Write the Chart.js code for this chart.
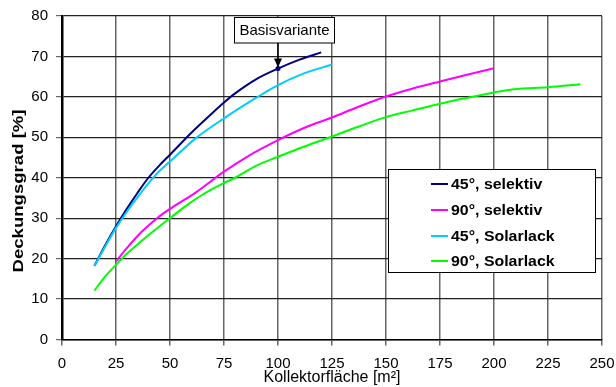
<!DOCTYPE html>
<html>
<head>
<meta charset="utf-8">
<script src="https://cdn.jsdelivr.net/npm/chart.js@4/dist/chart.umd.min.js"></script>
<style>
  html, body { margin: 0; padding: 0; background: #fff; }
  #wrap { width: 616px; height: 387px; }
</style>
</head>
<body>
<div id="wrap"><canvas id="chart" width="616" height="387"></canvas></div>
<script>
// data
const seriesNames = ['45°, selektiv', '90°, selektiv', '45°, Solarlack', '90°, Solarlack'];
const seriesColors = ['#000080', '#ff00ff', '#00ccff', '#00ff00'];

const area45sel = [15, 20, 25, 30, 35, 40, 45, 50, 60, 70, 75, 80, 90, 100, 110, 120];
const dg45sel   = [18.2, 23.3, 28, 32.3, 36.3, 40, 43, 45.7, 51.2, 56.2, 58.6, 60.8, 64.4, 67, 69.2, 71];

const area90sel = [25, 30, 37, 44, 50, 62, 75, 87, 100, 112, 125, 137, 150, 162, 175, 187, 200];
const dg90sel   = [19.3, 22.6, 26.7, 30, 32.3, 36.4, 41.5, 45.6, 49.3, 52.3, 54.9, 57.5, 60.1, 62, 63.8, 65.4, 67.1];

const area45sol = [15, 20, 25, 30, 35, 40, 45, 50, 62, 75, 90, 100, 112, 125];
const dg45sol   = [18.2, 23, 27.6, 31.6, 35.2, 38.6, 41.6, 44, 49.8, 54.7, 59.8, 62.9, 65.8, 68];

const area90sol = [15, 20, 25, 30, 40, 50, 58, 65, 75, 80, 90, 100, 110, 125, 137, 150, 162, 175, 187, 200, 209, 225, 240];
const dg90sol   = [12.1, 15.6, 18.5, 21.2, 25.8, 30, 33.3, 35.8, 38.7, 40, 43, 45.2, 47.3, 50.2, 52.6, 55, 56.6, 58.3, 59.7, 61.1, 61.9, 62.4, 63.1];

const xTicks = [0, 25, 50, 75, 100, 125, 150, 175, 200, 225, 250];
const yTicks = [0, 10, 20, 30, 40, 50, 60, 70, 80];

const basisLabel = 'Basisvariante';
const basisArea = 100;
const basisValue = 67;

const xTitle = 'Kollektorfläche [m²]';
const yTitle = 'Deckungsgrad [%]';

const FONT = "'Liberation Sans', Arial, sans-serif";

function toPoints(xs, ys) {
  return xs.map((x, i) => ({ x: x, y: ys[i] }));
}

const allSeries = [
  toPoints(area45sel, dg45sel),
  toPoints(area90sel, dg90sel),
  toPoints(area45sol, dg45sol),
  toPoints(area90sol, dg90sol),
];

// legend box inside the plot, the "Basisvariante" callout and the y title
const extrasPlugin = {
  id: 'extras',
  afterDatasetsDraw(chart) {
    const ctx = chart.ctx;
    const xs = chart.scales.x, ys = chart.scales.y;
    const area = chart.chartArea;

    // callout
    const px = xs.getPixelForValue(basisArea);
    const py = ys.getPixelForValue(basisValue);
    ctx.save();
    ctx.fillStyle = seriesColors[0];
    ctx.beginPath();
    ctx.arc(px, py, 2.5, 0, Math.PI * 2);
    ctx.fill();

    const boxL = Math.round(px - 44) + 0.5, boxR = Math.round(px + 56) + 0.5;
    const boxT = area.top + 1.5, boxB = area.top + 27;
    ctx.fillStyle = '#fff';
    ctx.fillRect(boxL, boxT, boxR - boxL, boxB - boxT);
    ctx.strokeStyle = '#000';
    ctx.lineWidth = 1;
    ctx.strokeRect(boxL, boxT, boxR - boxL, boxB - boxT);
    ctx.fillStyle = '#000';
    ctx.font = '15px ' + FONT;
    ctx.textAlign = 'center';
    ctx.textBaseline = 'middle';
    ctx.fillText(basisLabel, (boxL + boxR) / 2, (boxT + boxB) / 2 + 1);

    ctx.beginPath();
    ctx.moveTo(px, boxB);
    ctx.lineTo(px, py - 8);
    ctx.lineWidth = 1.5;
    ctx.stroke();
    ctx.beginPath();
    ctx.moveTo(px - 4, py - 10);
    ctx.lineTo(px + 4, py - 10);
    ctx.lineTo(px, py - 1);
    ctx.closePath();
    ctx.fill();

    // legend
    const lL = 388.5, lT = 169.5, lW = 207, lH = 103;
    ctx.fillStyle = '#fff';
    ctx.fillRect(lL, lT, lW, lH);
    ctx.strokeStyle = '#000';
    ctx.lineWidth = 1;
    ctx.strokeRect(lL, lT, lW, lH);
    ctx.font = 'bold 15px ' + FONT;
    ctx.textAlign = 'left';
    const rows = [184, 210, 236, 261];
    seriesNames.forEach((name, i) => {
      ctx.strokeStyle = seriesColors[i];
      ctx.lineWidth = 2;
      ctx.beginPath();
      ctx.moveTo(431, rows[i]);
      ctx.lineTo(448, rows[i]);
      ctx.stroke();
      ctx.fillStyle = '#000';
      ctx.save();
      ctx.translate(451, rows[i] + 1);
      ctx.scale(1.06, 1);
      ctx.fillText(name, 0, 0);
      ctx.restore();
    });

    // y axis title, a bit wider-set like the original
    ctx.font = 'bold 15px ' + FONT;
    ctx.textAlign = 'center';
    ctx.textBaseline = 'middle';
    ctx.translate(19, 191);
    ctx.rotate(-Math.PI / 2);
    const w = ctx.measureText(yTitle).width;
    ctx.scale(163 / w, 1);
    ctx.fillText(yTitle, 0, 0);
    ctx.restore();
  }
};

new Chart(document.getElementById('chart'), {
  type: 'line',
  data: {
    datasets: allSeries.map((pts, i) => ({
      label: seriesNames[i],
      data: pts,
      borderColor: seriesColors[i],
      backgroundColor: seriesColors[i],
      borderWidth: 2,
      pointRadius: 0,
      cubicInterpolationMode: 'monotone',
      fill: false,
      order: -i,
    })),
  },
  options: {
    responsive: false,
    animation: false,
    layout: { padding: { top: 16, right: 14, left: 0, bottom: 0 } },
    plugins: {
      legend: { display: false },
      tooltip: { enabled: false },
    },
    scales: {
      x: {
        type: 'linear',
        min: 0,
        max: 250,
        afterBuildTicks: (scale) => { scale.ticks = xTicks.map(v => ({ value: v })); },
        afterFit: (scale) => {
          scale.height = 47.5;
          scale.paddingLeft = 0;
          scale.paddingRight = 0;
        },
        grid: { color: '#666', lineWidth: 1.5, tickLength: 6, tickColor: '#666' },
        border: { color: '#000', width: 1.5 },
        ticks: { color: '#000', font: { family: FONT, size: 15 }, padding: 9, maxRotation: 0 },
        title: {
          display: true,
          text: xTitle,
          color: '#000',
          font: { family: FONT, size: 16 },
          padding: { top: -6, bottom: 0 },
        },
      },
      y: {
        min: 0,
        max: 80,
        afterBuildTicks: (scale) => { scale.ticks = yTicks.map(v => ({ value: v })); },
        afterFit: (scale) => {
          scale.width = 62;
          scale.paddingTop = 0;
          scale.paddingBottom = 0;
        },
        grid: { color: '#222', lineWidth: 1.2, tickLength: 6, tickColor: '#666' },
        border: { color: '#000', width: 2.5 },
        ticks: { color: '#000', font: { family: FONT, size: 15 }, padding: 8 },
        title: { display: false },
      },
    },
  },
  plugins: [extrasPlugin],
});
</script>
</body>
</html>
